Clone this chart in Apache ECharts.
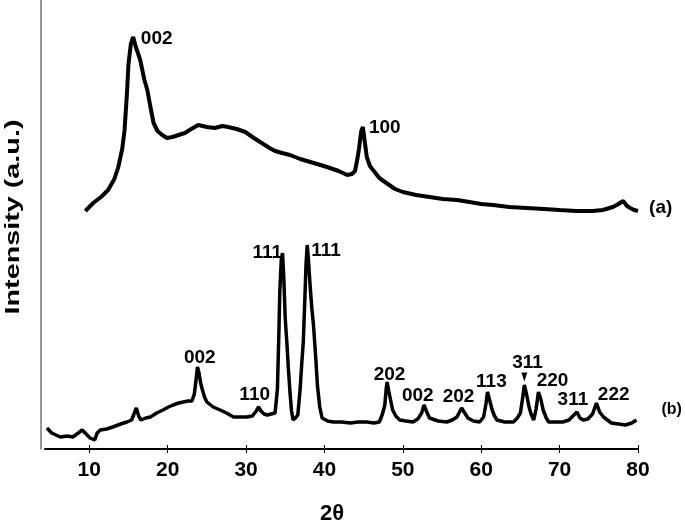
<!DOCTYPE html>
<html>
<head>
<meta charset="utf-8">
<script src="https://cdn.jsdelivr.net/npm/echarts@6/dist/echarts.min.js"></script>
<style>
  html, body { margin: 0; padding: 0; background: #fff; }
  #xrdChart { width: 685px; height: 525px; }
</style>
</head>
<body>
<div id="xrdChart"></div>
<script>
// 2theta tick labels
var xTicks = [10, 20, 30, 40, 50, 60, 70, 80];

// curve (a), [2theta, intensity]
var curveA = [
  [9.5, 238], [10.5, 246], [11.5, 252], [12.4, 259], [13.2, 270], [13.7, 282], [14.2, 300], [14.5, 319],
  [14.8, 355], [15.0, 385], [15.3, 405], [15.6, 412], [15.9, 403], [16.5, 389], [17.0, 370], [17.4, 359],
  [17.8, 342], [18.2, 326], [18.7, 318], [19.3, 314], [19.9, 311], [20.6, 312], [21.4, 314], [22.2, 316],
  [23.0, 320], [23.9, 324], [25.0, 322], [26.0, 321], [27.0, 323], [27.7, 322], [28.8, 320], [29.9, 317],
  [31.0, 311], [32.0, 306], [33.0, 301], [33.7, 298], [34.6, 296], [35.6, 294], [36.9, 290], [38.2, 287],
  [39.5, 284], [40.7, 281], [41.8, 278], [42.9, 274], [43.5, 275], [43.9, 278], [44.2, 290], [44.4, 300],
  [44.7, 318], [44.9, 322], [45.1, 310], [45.4, 292], [45.8, 283], [46.2, 279], [47.0, 271], [47.9, 266],
  [49.0, 260], [50.0, 257], [51.7, 254], [53.4, 252], [55.1, 250], [56.9, 249], [58.5, 247], [60.0, 245],
  [61.5, 244], [63.6, 242], [65.8, 241], [68.0, 240], [70.0, 239], [72.1, 238], [74.2, 238], [75.5, 239],
  [76.8, 242], [77.5, 245], [78.1, 248], [78.6, 243], [79.0, 241], [79.5, 239], [80.0, 238]
];

// curve (b)
var curveB = [
  [4.6, 21], [5.2, 16], [6.3, 12], [7.2, 13], [7.9, 12], [8.6, 16], [9.1, 19], [9.6, 15], [10.1, 11],
  [10.7, 9], [11.0, 16], [11.4, 19], [12.2, 20], [13.0, 22], [14.0, 25], [14.8, 27], [15.4, 29], [15.8, 37],
  [16.0, 41], [16.3, 33], [16.6, 29], [17.2, 31], [17.8, 32], [18.6, 36], [19.4, 39], [20.1, 42], [20.7, 44],
  [21.4, 46], [22.0, 47], [22.6, 48], [23.1, 48], [23.4, 55], [23.6, 68], [23.8, 82], [24.0, 76], [24.2, 66],
  [24.4, 60], [24.7, 52], [25.0, 47], [25.8, 42], [26.7, 39], [27.5, 36], [28.4, 32], [29.2, 32], [30.1, 32],
  [30.8, 33], [31.3, 38], [31.6, 42], [31.9, 38], [32.3, 35], [32.7, 34], [33.2, 35], [33.7, 36], [34.0, 60],
  [34.2, 120], [34.3, 157], [34.5, 190], [34.65, 196], [34.8, 174], [35.0, 130], [35.2, 107], [35.4, 80],
  [35.6, 57], [35.8, 38], [36.0, 29], [36.3, 31], [36.6, 34], [36.9, 60], [37.1, 85], [37.3, 107], [37.5, 150],
  [37.65, 185], [37.8, 204], [37.95, 190], [38.2, 160], [38.4, 140], [38.6, 124], [38.9, 90], [39.1, 64],
  [39.4, 42], [39.7, 31], [40.4, 28], [41.1, 27], [42.2, 27], [43.3, 26], [44.3, 27], [45.4, 27], [46.3, 26],
  [47.0, 27], [47.4, 35], [47.7, 44], [47.9, 62], [48.0, 67], [48.2, 58], [48.7, 39], [49.1, 33], [49.6, 29],
  [50.4, 28], [51.3, 27], [51.9, 30], [52.4, 36], [52.7, 44], [53.0, 38], [53.4, 31], [54.5, 28], [55.6, 27],
  [56.3, 29], [56.9, 32], [57.5, 41], [57.9, 36], [58.3, 31], [59.0, 28], [59.8, 27], [60.3, 32], [60.6, 45],
  [60.8, 57], [61.1, 48], [61.4, 39], [61.7, 33], [62.0, 29], [63.0, 27], [64.1, 27], [64.6, 31], [65.0, 36],
  [65.3, 52], [65.5, 64], [65.8, 54], [66.1, 42], [66.4, 34], [66.7, 29], [67.0, 40], [67.3, 57], [67.6, 50],
  [67.9, 39], [68.3, 31], [68.6, 27], [69.5, 27], [70.4, 27], [71.2, 29], [71.7, 33], [72.2, 37], [72.6, 31],
  [73.0, 29], [73.6, 30], [74.2, 35], [74.7, 46], [75.1, 37], [75.6, 32], [76.6, 26], [77.5, 25], [78.4, 24],
  [79.2, 26], [79.8, 29]
];

// peak labels (hkl), [2theta, intensity, text]
var peaksA = [[18.6, 410, '002'], [47.7, 321, '100']];
var peaksB = [
  [24.1, 91, '002'], [31.1, 54, '110'], [32.7, 196, '111'], [40.2, 198, '111'],
  [48.3, 74, '202'], [51.9, 53, '002'], [57.1, 52, '202'], [61.3, 67, '113'],
  [65.9, 86, '311'], [69.1, 68, '220'], [71.7, 49, '311'], [76.9, 54, '222']
];
var nameA = [[82.9, 241, '(a)']];
var nameB = [[84.3, 39, '(b)']];

var chart = echarts.init(document.getElementById('xrdChart'));

// invisible points that only carry a text label
function textSeries(data, size) {
  return {
    type: 'scatter',
    data: data,
    symbolSize: 0,
    clip: false,
    silent: true,
    itemStyle: { opacity: 1 },
    label: {
      show: true,
      position: 'inside',
      formatter: function (p) { return p.value[2]; },
      fontFamily: 'Liberation Sans, Arial',
      fontWeight: 'bold',
      fontSize: size,
      color: '#000',
      textBorderWidth: 0
    }
  };
}

var option = {
  animation: false,
  backgroundColor: '#fff',
  grid: { left: 45, right: 47, top: 0, bottom: 76, containLabel: false },
  xAxis: [{
    type: 'value',
    min: 4.35,
    max: 80,
    axisLine: { show: true, lineStyle: { color: '#000', width: 2 } },
    axisTick: { show: true, customValues: xTicks, length: 4, lineStyle: { color: '#000', width: 1 } },
    axisLabel: {
      customValues: xTicks,
      margin: 11,
      fontFamily: 'Liberation Sans, Arial',
      fontWeight: 'bold',
      fontSize: 21,
      color: '#000'
    },
    splitLine: { show: false }
  }, {
    // ticks crossing above the axis line
    type: 'value',
    min: 4.35,
    max: 80,
    position: 'bottom',
    axisLine: { show: false },
    axisTick: { show: true, inside: true, customValues: xTicks, length: 4, lineStyle: { color: '#000', width: 1 } },
    axisLabel: { show: false },
    splitLine: { show: false }
  }],
  yAxis: {
    type: 'value',
    min: 0,
    max: 449,
    offset: 4,
    axisLine: { show: true, lineStyle: { color: '#777', width: 1.5 } },
    axisTick: { show: false },
    axisLabel: { show: false },
    splitLine: { show: false }
  },
  graphic: [{
    type: 'text',
    x: 13,
    y: 217,
    rotation: Math.PI / 2,
    scaleX: 1.37,
    style: {
      text: 'Intensity (a.u.)',
      font: 'bold 21px "Liberation Sans", Arial',
      fill: '#000',
      textAlign: 'center',
      textVerticalAlign: 'middle'
    }
  }, {
    type: 'text',
    x: 332,
    y: 514,
    style: {
      text: '2θ',
      font: 'bold 22px "Liberation Sans", Arial',
      fill: '#000',
      textAlign: 'center',
      textVerticalAlign: 'middle'
    }
  }],
  series: [
    {
      type: 'line',
      data: curveA,
      showSymbol: false,
      lineStyle: { color: '#000', width: 4 }
    },
    {
      type: 'line',
      data: curveB,
      showSymbol: false,
      lineStyle: { color: '#000', width: 3.5 },
      markPoint: {
        silent: true,
        symbol: 'triangle',
        symbolRotate: 180,
        symbolSize: [6, 9],
        itemStyle: { color: '#000' },
        label: { show: false },
        data: [{ coord: [65.5, 72] }]
      }
    },
    textSeries(peaksA, 19),
    textSeries(peaksB, 19),
    textSeries(nameA, 19),
    textSeries(nameB, 16)
  ]
};

chart.setOption(option);
</script>
</body>
</html>
